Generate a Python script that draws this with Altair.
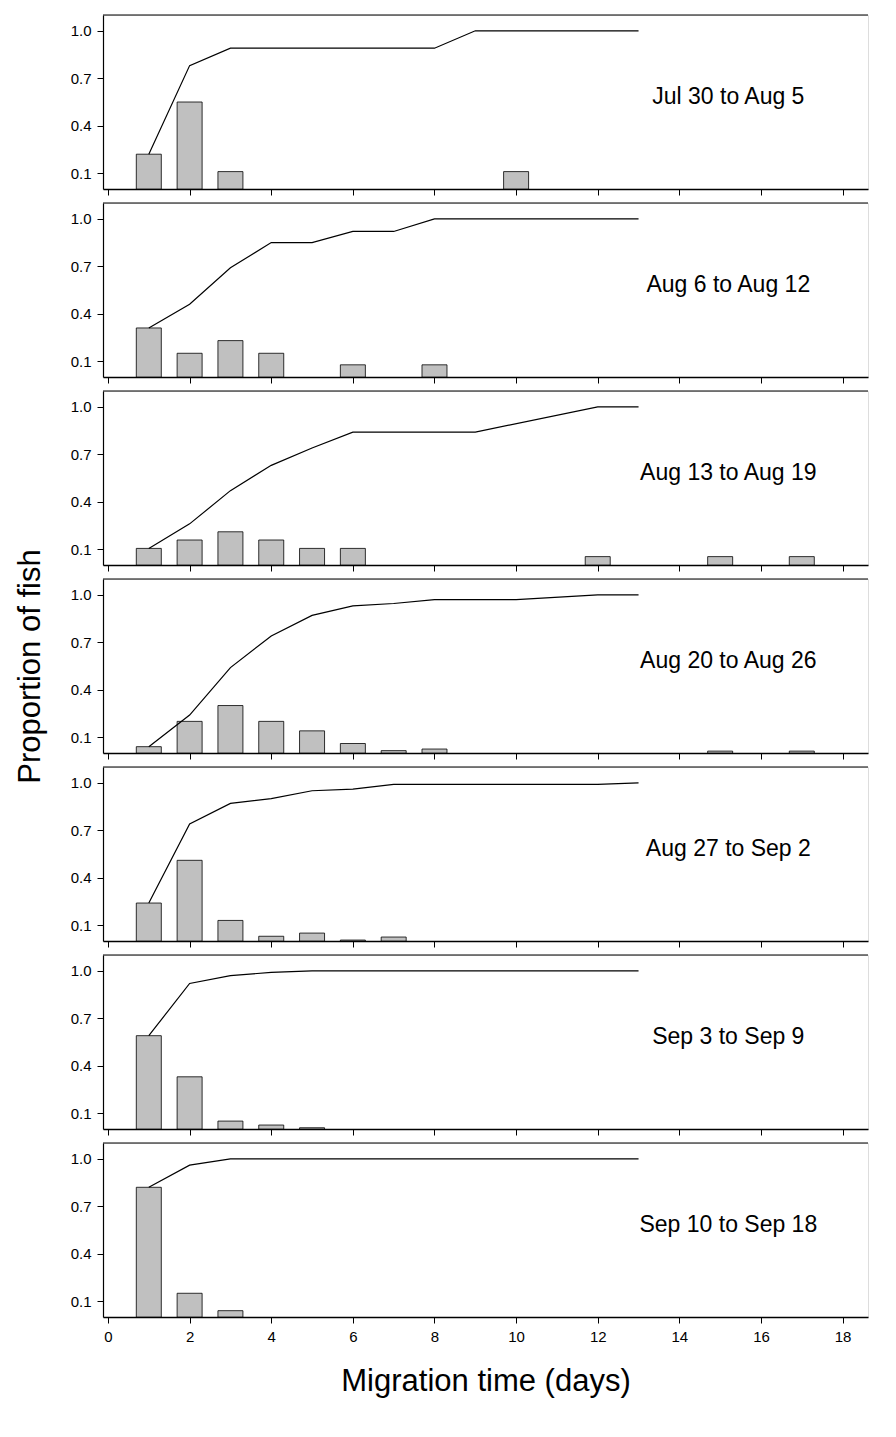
import altair as alt
import pandas as pd

labels = ["Jul 30 to Aug 5", "Aug 6 to Aug 12", "Aug 13 to Aug 19", "Aug 20 to Aug 26",
          "Aug 27 to Sep 2", "Sep 3 to Sep 9", "Sep 10 to Sep 18"]

bar_x = [
    [1, 2, 3, 10],
    [1, 2, 3, 4, 6, 8],
    [1, 2, 3, 4, 5, 6, 12, 15, 17],
    [1, 2, 3, 4, 5, 6, 7, 8, 15, 17],
    [1, 2, 3, 4, 5, 6, 7],
    [1, 2, 3, 4, 5],
    [1, 2, 3],
]
bar_y = [
    [0.22, 0.55, 0.11, 0.11],
    [0.31, 0.15, 0.23, 0.15, 0.077, 0.077],
    [0.105, 0.158, 0.21, 0.158, 0.105, 0.105, 0.053, 0.053, 0.053],
    [0.04, 0.2, 0.3, 0.2, 0.14, 0.06, 0.015, 0.025, 0.012, 0.012],
    [0.24, 0.51, 0.13, 0.03, 0.05, 0.006, 0.025],
    [0.59, 0.33, 0.05, 0.025, 0.008],
    [0.82, 0.15, 0.04],
]
cum_x = [
    [1, 2, 3, 8, 9, 13],
    [1, 2, 3, 4, 5, 6, 7, 8, 13],
    [1, 2, 3, 4, 5, 6, 9, 12, 13],
    [1, 2, 3, 4, 5, 6, 7, 8, 10, 12, 13],
    [1, 2, 3, 4, 5, 6, 7, 12, 13],
    [1, 2, 3, 4, 5, 13],
    [1, 2, 3, 13],
]
cum_y = [
    [0.22, 0.78, 0.89, 0.89, 1.0, 1.0],
    [0.31, 0.46, 0.69, 0.85, 0.85, 0.92, 0.92, 1.0, 1.0],
    [0.105, 0.26, 0.47, 0.63, 0.74, 0.84, 0.84, 1.0, 1.0],
    [0.04, 0.24, 0.54, 0.74, 0.87, 0.93, 0.945, 0.97, 0.97, 1.0, 1.0],
    [0.24, 0.74, 0.87, 0.9, 0.95, 0.96, 0.99, 0.99, 1.0],
    [0.59, 0.92, 0.97, 0.99, 1.0, 1.0],
    [0.82, 0.96, 1.0, 1.0],
]

FONT = "Liberation Sans"
W, H = 765, 174
panels = []
n = len(labels)
for i in range(n):
    last = i == n - 1
    bars = pd.DataFrame({"x": bar_x[i], "y": bar_y[i]})
    line = pd.DataFrame({"x": cum_x[i], "y": cum_y[i]})
    lab = pd.DataFrame({"x": [15.2], "y": [0.58], "t": [labels[i]]})
    xenc = alt.X("x:Q", scale=alt.Scale(domain=[0, 18.5], nice=False),
                 axis=alt.Axis(values=list(range(0, 19, 2)), labels=last, grid=False,
                               title="Migration time (days)" if last else None,
                               titleFontSize=31, titleFontWeight="normal", titlePadding=22,
                               labelFontSize=15, labelPadding=6, tickSize=6, domainColor="black",
                               domainWidth=1.5, tickColor="black", labelColor="black",
                               titleColor="black"))
    yaxis = dict(values=[0.1, 0.4, 0.7, 1.0], format=".1f", grid=False,
                 labelFontSize=15, labelPadding=6, tickSize=6, domainWidth=1.2,
                 domainColor="black", tickColor="black", labelColor="black")
    if i == 3:
        yaxis.update(title="Proportion of fish", titleFontSize=31, titleFontWeight="normal",
                     titleColor="black", titlePadding=24)
    else:
        yaxis.update(title=None)
    yenc = alt.Y("y:Q", scale=alt.Scale(domain=[0, 1.1], nice=False), axis=alt.Axis(**yaxis))
    b = alt.Chart(bars).mark_bar(size=25, color="#c0c0c0", stroke="black", strokeWidth=0.8).encode(x=xenc, y=yenc)
    l = alt.Chart(line).mark_line(color="black", strokeWidth=1.2).encode(x="x:Q", y="y:Q")
    t = alt.Chart(lab).mark_text(fontSize=23, font=FONT, color="black").encode(x="x:Q", y="y:Q", text="t:N")
    top = alt.Chart(lab).mark_rule(color="black", strokeWidth=1.2).encode(
        x=alt.value(0), x2=alt.value(W), y=alt.value(0))
    panels.append(alt.layer(b, l, t, top).properties(width=W, height=H))

chart = (alt.vconcat(*panels, spacing=14, bounds="flush")
         .configure_view(stroke=None)
         .configure(font=FONT))
chart.save("out.html", embed_options={"renderer": "svg", "actions": False})
